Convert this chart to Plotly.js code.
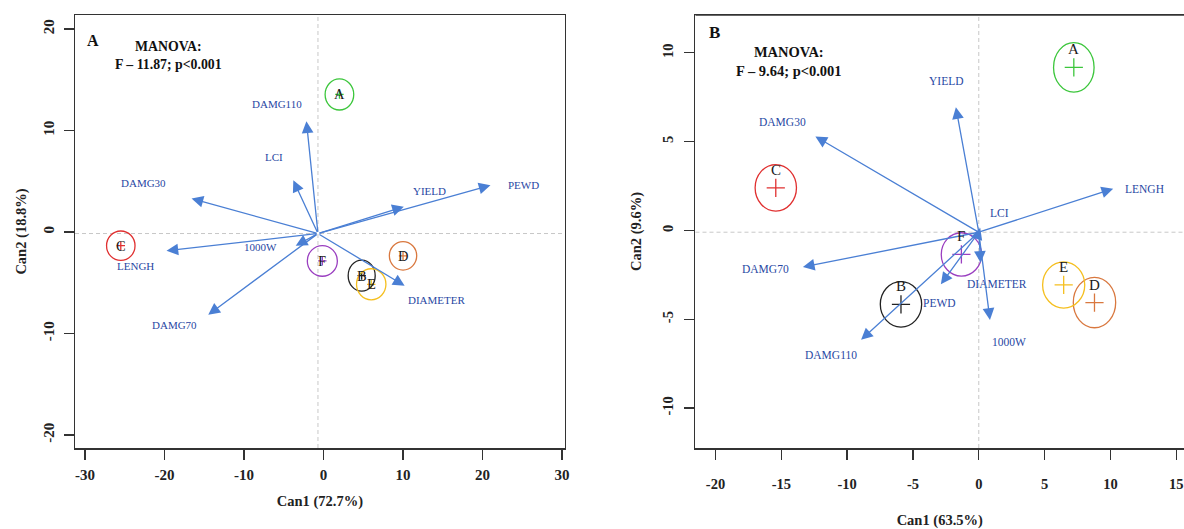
<!DOCTYPE html>
<html><head><meta charset="utf-8">
<script src="https://cdn.plot.ly/plotly-3.0.1.min.js"></script>
<style>html,body{margin:0;padding:0;background:#fff}</style>
</head><body><div id="chart" style="width:1184px;height:529px"></div>
<script>
// ---------- Panel A ----------
const varsA = ['DAMG110','LCI','DAMG30','LENGH','1000W','DAMG70','YIELD','PEWD','DIAMETER'];
const tipAx = [-2.15,-3.8,-16.6,-19.75,-3.5,-14.5,10.1,21.0,10.2];
const tipAy = [10.9,5.1,3.3,-1.85,-1.35,-8.15,2.5,4.6,-5.3];
const labAx = [-5.85,-6.2,-22.7,-23.7,-7.9,-18.7,13.3,25.1,14.2];
const labAy = [12.6,7.35,4.8,-3.3,-1.5,-9.2,4.0,4.6,-6.7];
const originA = [-0.7,-0.15];
const groups = ['A','B','C','D','E','F'];
const cenAx = [2.0,4.8,-25.5,10.0,6.0,-0.15];
const cenAy = [13.55,-4.3,-1.35,-2.35,-5.15,-2.85];
const radAx = [1.80,1.70,1.79,1.72,1.85,1.89];
const radAy = [1.53,1.53,1.45,1.40,1.53,1.51];
const statA = ['MANOVA:','F \u2013 11.87; p<0.001'];
const titlesA = ['Can1 (72.7%)','Can2 (18.8%)'];
const xTicksA = [-30,-20,-10,0,10,20,30];
const xTickTextA = ['-30','-20','-10','0','10','20','30'];
const yTicksA = [-20,-10,0,10,20];
const yTickTextA = ['-20','-10','0','10','20'];

// ---------- Panel B ----------
const varsB = ['YIELD','DAMG30','LENGH','LCI','DAMG70','PEWD','DIAMETER','1000W','DAMG110'];
const tipBx = [-1.74,-12.41,10.21,0.11,-13.36,-2.88,0.14,0.85,-8.94];
const tipBy = [6.94,5.29,2.35,0.15,-2.06,-3.03,-1.82,-5.04,-6.16];
const labBx = [-2.45,-14.92,12.62,1.6,-16.18,-2.96,1.4,2.29,-11.21];
const labBy = [8.42,6.11,2.35,0.99,-2.19,-4.1,-3.03,-6.27,-7.0];
const originB = [0,-0.1];
const cenBx = [7.22,-5.91,-15.42,8.79,6.45,-1.32];
const cenBy = [9.18,-4.16,2.4,-4.06,-3.07,-1.35];
const radBx = [1.54,1.57,1.57,1.61,1.60,1.53];
const radBy = [1.39,1.28,1.31,1.42,1.30,1.22];
const statB = ['MANOVA:','F \u2013 9.64; p<0.001'];
const titlesB = ['Can1 (63.5%)','Can2 (9.6%)'];
const xTicksB = [-20,-15,-10,-5,0,5,10,15];
const xTickTextB = ['-20','-15','-10','-5','0','5','10','15'];
const yTicksB = [-10,-5,0,5,10];
const yTickTextB = ['-10','-5','0','5','10'];

const groupColors = ['#3cc63c','#222222','#e03030','#d9783f','#f5bf1f','#9a3fc0'];
const arrowColor = '#4a7fd4';
const labelColor = '#2847a3';
const SERIF = 'Liberation Serif';

const traces = [];
const shapes = [];
const annotations = [];

function panel(xr, yr, tipx, tipy, labx, laby, vars, origin, cx, cy, rx, ry, opts) {
  shapes.push({type:'line', xref:xr, yref:yr+' domain', x0:origin[0], x1:origin[0], y0:0, y1:1,
    line:{color:'#c8c8c8', width:1, dash:'4px,3px'}, layer:'below'});
  shapes.push({type:'line', xref:xr+' domain', yref:yr, x0:0, x1:1, y0:origin[1], y1:origin[1],
    line:{color:'#c8c8c8', width:1, dash:'4px,3px'}, layer:'below'});
  for (let i = 0; i < cx.length; i++) {
    shapes.push({type:'circle', xref:xr, yref:yr,
      x0:cx[i]-rx[i], x1:cx[i]+rx[i], y0:cy[i]-ry[i], y1:cy[i]+ry[i],
      line:{color:groupColors[i], width:1.3}});
  }
  for (let i = 0; i < vars.length; i++) {
    annotations.push({x:tipx[i], y:tipy[i], ax:origin[0], ay:origin[1],
      xref:xr, yref:yr, axref:xr, ayref:yr, text:'', showarrow:true,
      arrowhead:2, arrowsize:1.8, arrowwidth:1.3, arrowcolor:arrowColor, standoff:0, startstandoff:0});
    annotations.push({x:labx[i], y:laby[i], xref:xr, yref:yr, text:vars[i], showarrow:false,
      xanchor:'center', yanchor:'middle',
      font:{family:SERIF, size:opts.varSize, color:labelColor}});
  }
  traces.push({type:'scatter', mode:'markers', x:cx, y:cy, xaxis:xr, yaxis:yr,
    marker:{symbol:'cross-thin', size:opts.plusSize, line:{width:1.3, color:groupColors}},
    hoverinfo:'skip', showlegend:false});
  for (let i = 0; i < cx.length; i++) {
    annotations.push({x:cx[i], y:cy[i], xref:xr, yref:yr, text:groups[i], showarrow:false,
      xanchor:'center', yanchor:'middle',
      yshift:opts.letterShift, font:{family:SERIF, size:opts.letterSize, color:'#1a1a1a'}});
  }
  annotations.push({x:opts.tagPos[0], y:opts.tagPos[1], xref:xr+' domain', yref:yr+' domain',
    xanchor:'center', yanchor:'middle',
    text:'<b>'+opts.tag+'</b>', showarrow:false, font:{family:SERIF, size:opts.tagSize, color:'#111'}});
  annotations.push({x:opts.statPos[0], y:opts.statPos[1], xref:xr+' domain', yref:yr+' domain',
    xanchor:'center', yanchor:'middle',
    text:'<b>'+opts.stat.join('<br>')+'</b>', showarrow:false, align:'center',
    font:{family:SERIF, size:opts.statSize, color:'#111'}});
}

panel('x','y', tipAx, tipAy, labAx, labAy, varsA, originA, cenAx, cenAy, radAx, radAy,
  {varSize:11, plusSize:6, letterSize:14.5, letterShift:0, tag:'A', tagPos:[0.037,0.942], tagSize:16,
   stat:statA, statPos:[0.19,0.907], statSize:13.8});
panel('x2','y2', tipBx, tipBy, labBx, labBy, varsB, originB, cenBx, cenBy, radBx, radBy,
  {varSize:11.5, plusSize:13, letterSize:15, letterShift:18, tag:'B', tagPos:[0.038,0.959], tagSize:17,
   stat:statB, statPos:[0.191,0.893], statSize:14.5});

const tickFont = {family:SERIF, size:15, weight:'bold', color:'#222'};
const titleFont = {family:SERIF, size:14.5, weight:'bold', color:'#222'};
const axBase = {showgrid:false, zeroline:false, showline:true, linecolor:'#333', linewidth:1.5,
  ticks:'outside', ticklen:10, tickwidth:1.3, tickcolor:'#333', tickfont:tickFont, automargin:false,
  tickmode:'array'};

const layout = {
  width:1184, height:529,
  margin:{l:75, r:0, t:15, b:81},
  paper_bgcolor:'#fff', plot_bgcolor:'#fff',
  showlegend:false,
  xaxis: Object.assign({}, axBase, {domain:[0,0.4416], range:[-31.26,30.34], tickvals:xTicksA, ticktext:xTickTextA,
    mirror:true, anchor:'y', ticklabelstandoff:2, title:{text:titlesA[0], font:titleFont, standoff:14}}),
  yaxis: Object.assign({}, axBase, {domain:[0,1], range:[-21.28,21.38], tickvals:yTicksA, ticktext:yTickTextA,
    mirror:true, anchor:'x', tickangle:-90, ticklabelstandoff:4, title:{text:titlesA[1], font:titleFont, standoff:10}}),
  xaxis2: Object.assign({}, axBase, {domain:[0.5595,1], range:[-21.52,15.59], tickvals:xTicksB, ticktext:xTickTextB,
    mirror:true, anchor:'y2', tickfont:Object.assign({}, tickFont, {size:14.5}), ticklabelstandoff:12,
    title:{text:titlesB[0], font:titleFont, standoff:24}}),
  yaxis2: Object.assign({}, axBase, {domain:[0,1], range:[-12.25,12.13], tickvals:yTicksB, ticktext:yTickTextB,
    mirror:false, anchor:'x2', tickangle:-90, tickfont:Object.assign({}, tickFont, {size:14.5}), ticklabelstandoff:5,
    title:{text:titlesB[1], font:titleFont, standoff:15}}),
  shapes: shapes,
  annotations: annotations
};
shapes.push({type:'line', xref:'x2 domain', yref:'y2 domain', x0:0, x1:1, y0:1, y1:1, line:{color:'#333', width:1.5}});

Plotly.newPlot('chart', traces, layout, {displayModeBar:false, staticPlot:true});
</script></body></html>
